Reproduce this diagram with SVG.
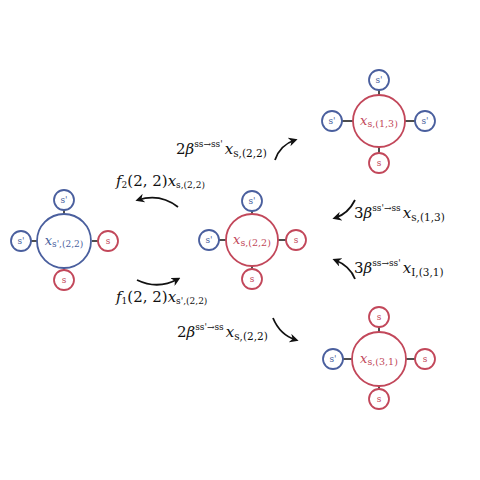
<svg xmlns="http://www.w3.org/2000/svg" width="480" height="480" viewBox="0 0 480 480">
<defs>
<style>
.big{fill:#fff;stroke-width:1.8}
.sm{fill:#fff;stroke-width:1.8}
.b{stroke:#4a5f9e}
.r{stroke:#c2475a}
.tb{fill:#4a5f9e}
.tr{fill:#c2475a}
.lk{stroke:#222;stroke-width:1.6}
.st{font-family:"DejaVu Serif","Liberation Serif",serif;font-size:9px;text-anchor:middle}
.lb{font-family:"DejaVu Serif","Liberation Serif",serif;font-size:13px;text-anchor:middle}
.eq{font-family:"DejaVu Serif","Liberation Serif",serif;font-size:15px;fill:#111}
.arr{fill:none;stroke:#111;stroke-width:1.8;marker-end:url(#ah)}
</style>
<marker id="ah" viewBox="0 0 10 10" refX="7" refY="5" markerWidth="5" markerHeight="5" orient="auto" markerUnits="strokeWidth">
<path d="M0,0 L10,5 L0,10 L3,5 Z" fill="#111"/>
</marker>
</defs>
<rect width="480" height="480" fill="#fff"/>

<g id="connectors">
<path class="arr" d="M275,160 Q280,145 295,140"/>
<path class="arr" d="M178,207 Q160,193 138,200"/>
<path class="arr" d="M137,280 Q158,290 178,279"/>
<path class="arr" d="M273,318 Q280,335 296,340"/>
<path class="arr" d="M355,200 Q348,214 335,218"/>
<path class="arr" d="M355,279 Q350,266 335,260"/>
</g>

<g id="node-left">
<line class="lk" x1="64" y1="210" x2="64" y2="214"/>
<line class="lk" x1="31" y1="241" x2="37" y2="241"/>
<line class="lk" x1="92" y1="241" x2="98" y2="241"/>
<line class="lk" x1="64" y1="268" x2="64" y2="270"/>
<circle class="big b" cx="64" cy="241" r="27"/>
<circle class="sm b" cx="64" cy="200" r="10"/>
<circle class="sm b" cx="21" cy="241" r="10"/>
<circle class="sm r" cx="108" cy="241" r="10"/>
<circle class="sm r" cx="64" cy="280" r="10"/>
<text class="st tb" x="64" y="203">s'</text>
<text class="st tb" x="21" y="244">s'</text>
<text class="st tr" x="108" y="244">s</text>
<text class="st tr" x="64" y="283">s</text>
<text class="lb tb" x="64" y="245"><tspan font-style="italic">x</tspan><tspan font-size="9" dy="2">s',(2,2)</tspan></text>
</g>

<g id="node-mid">
<line class="lk" x1="252" y1="211" x2="252" y2="214"/>
<line class="lk" x1="219" y1="240" x2="226" y2="240"/>
<line class="lk" x1="278" y1="240" x2="286" y2="240"/>
<line class="lk" x1="252" y1="266" x2="252" y2="269"/>
<circle class="big r" cx="252" cy="240" r="26"/>
<circle class="sm b" cx="252" cy="201" r="10"/>
<circle class="sm b" cx="209" cy="240" r="10"/>
<circle class="sm r" cx="296" cy="240" r="10"/>
<circle class="sm r" cx="252" cy="279" r="10"/>
<text class="st tb" x="252" y="204">s'</text>
<text class="st tb" x="209" y="243">s'</text>
<text class="st tr" x="296" y="243">s</text>
<text class="st tr" x="252" y="282">s</text>
<text class="lb tr" x="252" y="244"><tspan font-style="italic">x</tspan><tspan font-size="9.5" dy="2">s,(2,2)</tspan></text>
</g>

<g id="node-top-right">
<line class="lk" x1="379" y1="90" x2="379" y2="95"/>
<line class="lk" x1="342" y1="121" x2="353" y2="121"/>
<line class="lk" x1="405" y1="121" x2="415" y2="121"/>
<line class="lk" x1="379" y1="147" x2="379" y2="153"/>
<circle class="big r" cx="379" cy="121" r="26"/>
<circle class="sm b" cx="379" cy="80" r="10"/>
<circle class="sm b" cx="332" cy="121" r="10"/>
<circle class="sm b" cx="425" cy="121" r="10"/>
<circle class="sm r" cx="379" cy="163" r="10"/>
<text class="st tb" x="379" y="83">s'</text>
<text class="st tb" x="332" y="124">s'</text>
<text class="st tb" x="425" y="124">s'</text>
<text class="st tr" x="379" y="166">s</text>
<text class="lb tr" x="379" y="125"><tspan font-style="italic">x</tspan><tspan font-size="9.5" dy="2">s,(1,3)</tspan></text>
</g>

<g id="node-bottom-right">
<line class="lk" x1="379" y1="327" x2="379" y2="332"/>
<line class="lk" x1="343" y1="359" x2="353" y2="359"/>
<line class="lk" x1="406" y1="359" x2="415" y2="359"/>
<line class="lk" x1="379" y1="385" x2="379" y2="389"/>
<circle class="big r" cx="379" cy="359" r="27"/>
<circle class="sm r" cx="379" cy="317" r="10"/>
<circle class="sm b" cx="333" cy="359" r="10"/>
<circle class="sm r" cx="425" cy="359" r="10"/>
<circle class="sm r" cx="379" cy="399" r="10"/>
<text class="st tr" x="379" y="320">s</text>
<text class="st tb" x="333" y="362">s'</text>
<text class="st tr" x="425" y="362">s</text>
<text class="st tr" x="379" y="402">s</text>
<text class="lb tr" x="379" y="363"><tspan font-style="italic">x</tspan><tspan font-size="9.5" dy="2">s,(3,1)</tspan></text>
</g>

<g id="labels">
<text class="eq" x="176" y="154">2<tspan font-style="italic">β</tspan><tspan font-size="9" dy="-7">ss→ss'</tspan><tspan font-style="italic" dy="7" dx="2">x</tspan><tspan font-size="10.5" dy="3">s,(2,2)</tspan></text>
<text class="eq" x="116" y="186" font-size="13"><tspan font-style="italic">f</tspan><tspan font-size="9" dy="2">2</tspan><tspan dy="-2">(2, 2)</tspan><tspan font-style="italic">x</tspan><tspan font-size="9" dy="2">s,(2,2)</tspan></text>
<text class="eq" x="116" y="302" font-size="13"><tspan font-style="italic">f</tspan><tspan font-size="9" dy="2">1</tspan><tspan dy="-2">(2, 2)</tspan><tspan font-style="italic">x</tspan><tspan font-size="9" dy="2">s',(2,2)</tspan></text>
<text class="eq" x="177" y="337">2<tspan font-style="italic">β</tspan><tspan font-size="9" dy="-7">ss'→ss</tspan><tspan font-style="italic" dy="7" dx="2">x</tspan><tspan font-size="10.5" dy="3">s,(2,2)</tspan></text>
<text class="eq" x="354" y="218">3<tspan font-style="italic">β</tspan><tspan font-size="9" dy="-7">ss'→ss</tspan><tspan font-style="italic" dy="7" dx="2">x</tspan><tspan font-size="10.5" dy="3">s,(1,3)</tspan></text>
<text class="eq" x="354" y="273">3<tspan font-style="italic">β</tspan><tspan font-size="9" dy="-7">ss→ss'</tspan><tspan font-style="italic" dy="7" dx="2">x</tspan><tspan font-size="10.5" dy="3">I,(3,1)</tspan></text>
</g>
</svg>
